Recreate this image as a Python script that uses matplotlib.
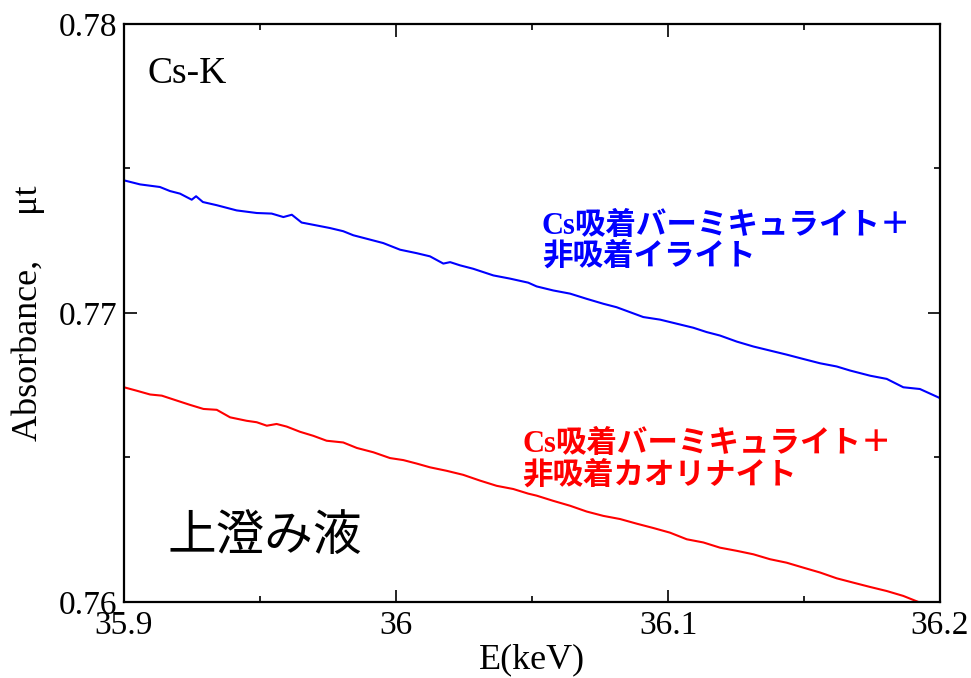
import matplotlib
matplotlib.use('Agg')
import matplotlib.pyplot as plt
from matplotlib.ticker import MultipleLocator, FixedLocator
import numpy as np

# Fonts: Times-like for numbers/latin, Noto CJK for the Japanese notes
plt.rcParams['font.family'] = ['Liberation Serif', 'Noto Sans CJK JP']

# Blue curve: Cs-sorbed vermiculite + non-sorbed illite
blue_e = [35.9000, 35.9059, 35.9132, 35.9169, 35.9206, 35.9249, 35.9265, 35.9290,
          35.9341, 35.9414, 35.9488, 35.9543, 35.9586, 35.9617, 35.9653, 35.9708,
          35.9757, 35.9806, 35.9843, 35.9892, 35.9953, 36.0015, 36.0076, 36.0125,
          36.0174, 36.0199, 36.0235, 36.0284, 36.0358, 36.0419, 36.0486, 36.0517,
          36.0578, 36.0640, 36.0701, 36.0762, 36.0811, 36.0860, 36.0909, 36.0971,
          36.1032, 36.1093, 36.1142, 36.1191, 36.1253, 36.1314, 36.1375, 36.1436,
          36.1497, 36.1559, 36.1620, 36.1669, 36.1743, 36.1804, 36.1865, 36.1926,
          36.1994, 36.2000]
blue_abs = [0.77459, 0.77445, 0.77436, 0.77422, 0.77413, 0.77392, 0.77404, 0.77384,
            0.77373, 0.77355, 0.77346, 0.77344, 0.77332, 0.77340, 0.77313, 0.77303,
            0.77294, 0.77283, 0.77269, 0.77257, 0.77242, 0.77219, 0.77207, 0.77196,
            0.77171, 0.77176, 0.77165, 0.77153, 0.77130, 0.77119, 0.77105, 0.77092,
            0.77078, 0.77067, 0.77049, 0.77032, 0.77020, 0.77003, 0.76986, 0.76977,
            0.76963, 0.76949, 0.76934, 0.76922, 0.76901, 0.76884, 0.76870, 0.76856,
            0.76841, 0.76826, 0.76815, 0.76801, 0.76783, 0.76772, 0.76743, 0.76737,
            0.76708, 0.76705]

# Red curve: Cs-sorbed vermiculite + non-sorbed kaolinite
red_e = [35.9000, 35.9047, 35.9096, 35.9139, 35.9194, 35.9243, 35.9292, 35.9341,
         35.9390, 35.9451, 35.9488, 35.9525, 35.9561, 35.9598, 35.9647, 35.9696,
         35.9745, 35.9806, 35.9856, 35.9917, 35.9978, 36.0027, 36.0076, 36.0125,
         36.0186, 36.0247, 36.0309, 36.0370, 36.0431, 36.0486, 36.0517, 36.0578,
         36.0640, 36.0701, 36.0762, 36.0824, 36.0885, 36.0946, 36.1007, 36.1069,
         36.1130, 36.1191, 36.1253, 36.1314, 36.1375, 36.1436, 36.1497, 36.1559,
         36.1620, 36.1681, 36.1743, 36.1804, 36.1865, 36.1926, 36.1951]
red_abs = [0.76743, 0.76731, 0.76718, 0.76714, 0.76697, 0.76682, 0.76668, 0.76665,
           0.76639, 0.76627, 0.76622, 0.76610, 0.76616, 0.76607, 0.76589, 0.76575,
           0.76558, 0.76552, 0.76533, 0.76518, 0.76498, 0.76491, 0.76479, 0.76466,
           0.76454, 0.76440, 0.76420, 0.76402, 0.76391, 0.76375, 0.76368, 0.76350,
           0.76333, 0.76313, 0.76298, 0.76287, 0.76271, 0.76256, 0.76240, 0.76217,
           0.76206, 0.76188, 0.76177, 0.76165, 0.76148, 0.76136, 0.76119, 0.76102,
           0.76082, 0.76067, 0.76052, 0.76038, 0.76021, 0.75998, 0.75993]

x_ticks = [35.9, 36.0, 36.1, 36.2]
x_labels = ['35.9', '36', '36.1', '36.2']
y_ticks = [0.76, 0.77, 0.78]
y_labels = ['0.76', '0.77', '0.78']

fig, ax = plt.subplots(figsize=(9.71, 6.78), dpi=100)
fig.subplots_adjust(left=0.1277, right=0.9681, bottom=0.1121, top=0.9646)

ax.plot(blue_e, blue_abs, color='#0000ff', linewidth=1.5)
ax.plot(red_e, red_abs, color='#ff0000', linewidth=1.5)

ax.set_xlim(35.9, 36.2)
ax.set_ylim(0.76, 0.78)

ax.xaxis.set_major_locator(FixedLocator(x_ticks))
ax.set_xticklabels(x_labels)
ax.yaxis.set_major_locator(FixedLocator(y_ticks))
ax.set_yticklabels(y_labels)
ax.xaxis.set_minor_locator(MultipleLocator(0.05))
ax.yaxis.set_minor_locator(MultipleLocator(0.005))

ax.tick_params(which='both', direction='in', top=True, right=True, width=1.2)
ax.tick_params(which='major', length=9, labelsize=24, pad=5)
ax.tick_params(which='minor', length=4.5)
ax.tick_params(axis='x', pad=6)
for s in ax.spines.values():
    s.set_linewidth(1.6)

ax.set_xlabel('E(keV)', fontsize=26, labelpad=2)
ax.set_ylabel('Absorbance,     μt', fontsize=26)
ax.yaxis.set_label_coords(-0.097, 0.5)

# annotations
ax.text(0.029, 0.898, 'Cs-K', transform=ax.transAxes, fontsize=27)
ax.text(0.512, 0.637, 'Cs吸着バーミキュライト＋', transform=ax.transAxes,
        fontsize=22, fontweight='bold', color='#0000ff')
ax.text(0.512, 0.583, '非吸着イライト', transform=ax.transAxes,
        fontsize=22, fontweight='bold', color='#0000ff')
ax.text(0.488, 0.2595, 'Cs吸着バーミキュライト＋', transform=ax.transAxes,
        fontsize=22, fontweight='bold', color='#ff0000')
ax.text(0.488, 0.204, '非吸着カオリナイト', transform=ax.transAxes,
        fontsize=22, fontweight='bold', color='#ff0000')
ax.text(0.053, 0.09, '上澄み液', transform=ax.transAxes, fontsize=35,
        family=['Noto Sans CJK JP'])

fig.savefig('out.png', dpi=100)
